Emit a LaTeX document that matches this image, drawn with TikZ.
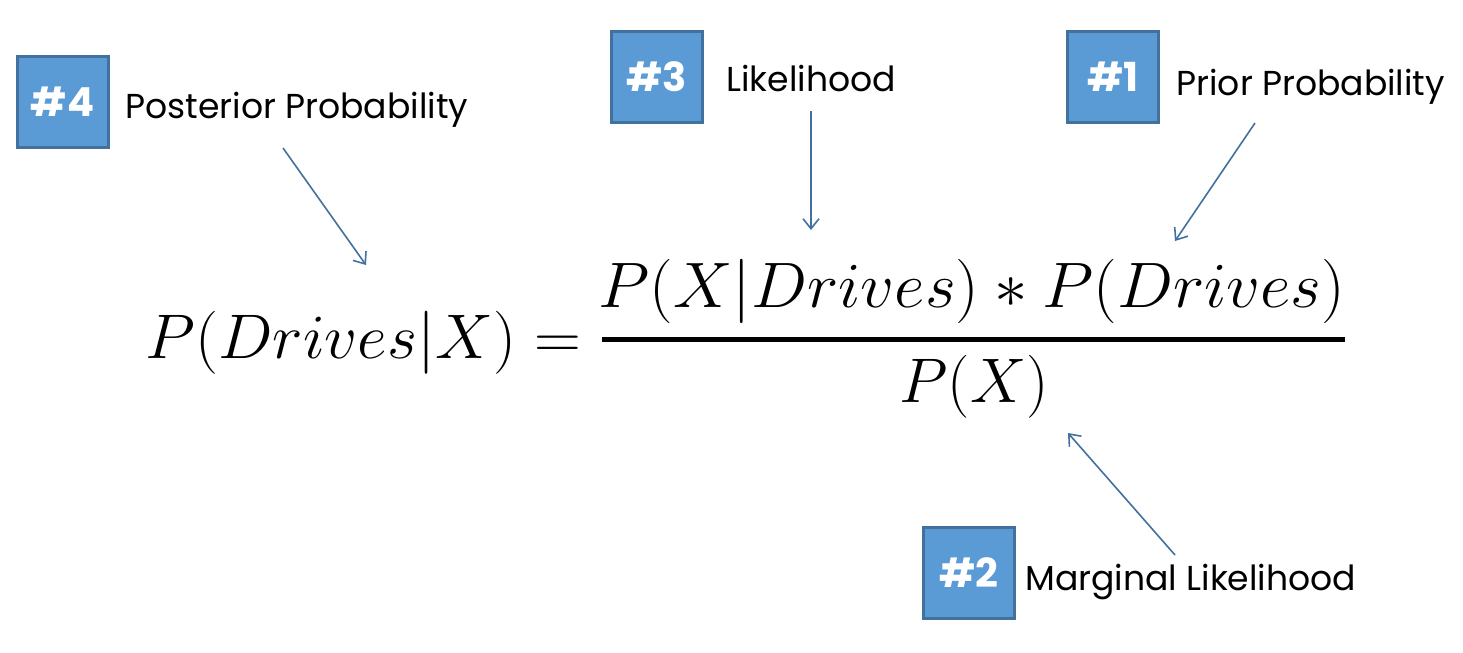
\documentclass[tikz,border=0pt]{standalone}
\usepackage{fontspec}
\setmainfont{Poppins}
\usetikzlibrary{arrows.meta}
\definecolor{boxfill}{HTML}{5B9BD5}
\definecolor{boxline}{HTML}{41719C}
\definecolor{arrowcol}{HTML}{41719C}
\tikzset{
  numbox/.style={draw=boxline, line width=1.5pt, fill=boxfill, minimum width=45.5pt, minimum height=45.5pt, inner sep=0pt, text=white, font=\fontsize{20}{24}\selectfont\bfseries},
  lbl/.style={anchor=base west, inner sep=0pt, font=\fontsize{17.3}{20}\selectfont},
  pointer/.style={draw=arrowcol, line width=0.8pt, -{Straight Barb[length=5pt,width=8pt,line width=0.8pt]}},
  eq/.style={inner sep=0pt, font=\Huge, scale=1.266}
}
\begin{document}
\begin{tikzpicture}[x=0.5pt,y=-0.5pt]
\useasboundingbox (0,0) rectangle (1463,653);
% boxes
\node[numbox] (b4) at (62.5,101.5) {\#4};
\node[numbox] (b3) at (657,76.5) {\#3};
\node[numbox] (b1) at (1113,76.5) {\#1};
\node[numbox] (b2) at (968.5,573) {\#2};
% labels
\node[lbl] (l4) at (125,118) {Posterior Probability};
\node[lbl] (l3) at (726,91) {Likelihood};
\node[lbl] (l1) at (1176,95) {Prior Probability};
\node[lbl] (l2) at (1025,590) {Marginal Likelihood};
% equation
\node[eq, anchor=base west, xscale=1.03] (lhs) at (145,358) {$P(Drives|X) =$};
\node[eq, anchor=base, xscale=1.058, yscale=1.02] (num) at (972,307) {$P(X|Drives) \ast P(Drives)$};
\node[eq, anchor=base] (den) at (974,402) {$P(X)$};
\coordinate (barL) at (602,339);
\coordinate (barR) at (1345,339);
\draw[line width=2.5pt] (barL) -- (barR);
% arrow endpoints
\coordinate (s4) at (283,148);
\coordinate (e4) at (366,265);
\coordinate (s3) at (811,111);
\coordinate (e3) at (811,230);
\coordinate (s1) at (1255,123);
\coordinate (e1) at (1175,241);
\coordinate (s2) at (1175,555);
\coordinate (e2) at (1068,433);
\draw[pointer] (s4) -- (e4);
\draw[pointer] (s3) -- (e3);
\draw[pointer] (s1) -- (e1);
\draw[pointer] (s2) -- (e2);
\end{tikzpicture}
\end{document}
